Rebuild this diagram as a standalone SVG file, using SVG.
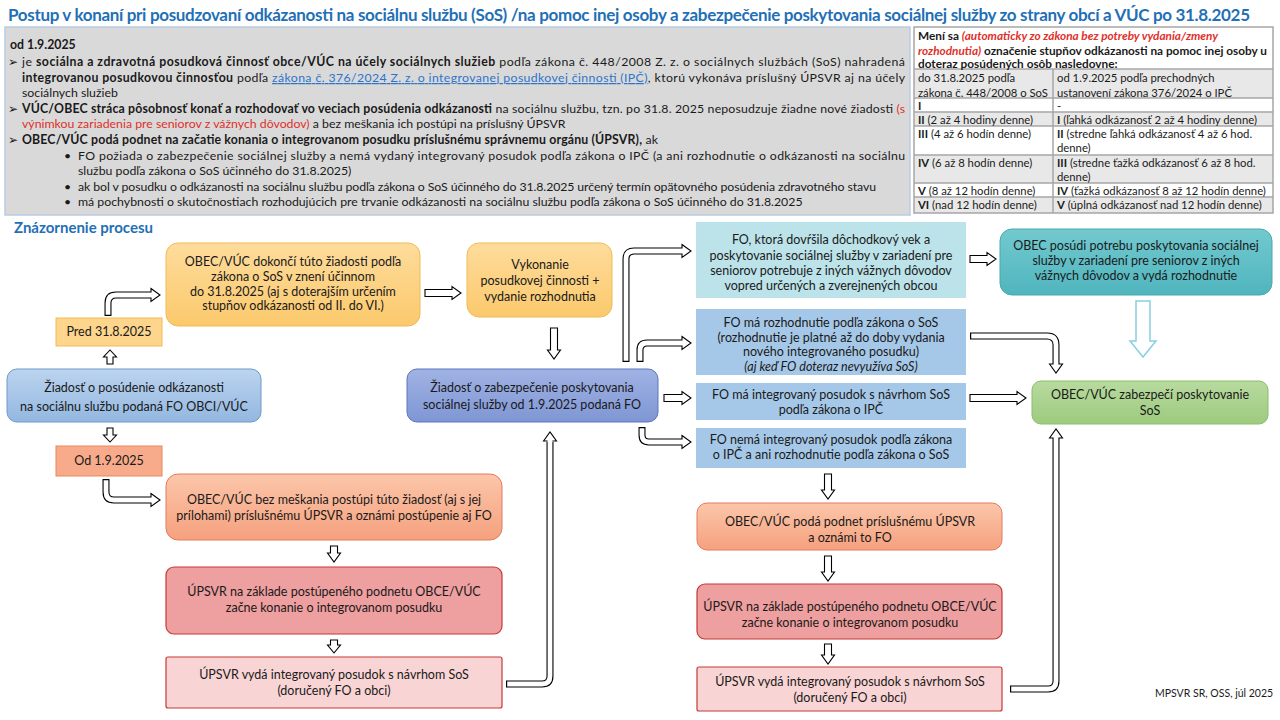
<svg xmlns="http://www.w3.org/2000/svg" width="1280" height="720" viewBox="0 0 1280 720">
<defs>
<style>
text{font-family:Lato,'Liberation Sans',sans-serif;fill:#1a1a1a}
.n{font-size:12.5px;text-anchor:middle}
.g{font-size:12.3px}
.tb{font-size:11.3px}
.b{font-weight:bold}
.i{font-style:italic}
.red{fill:#e0302a}
.lnk{fill:#2e74c8;text-decoration:underline}
.bul{font-family:'DejaVu Sans',sans-serif;font-size:12px}
.arr{fill:#fff;stroke:#000;stroke-width:1.1}
.so{fill:none;stroke:#000;stroke-width:7}
.si{fill:none;stroke:#fff;stroke-width:4.8}
.tl{stroke:#a6a6a6;stroke-width:1.5;fill:none}
</style>
<linearGradient id="gold" x1="0" y1="0" x2="0" y2="1"><stop offset="0" stop-color="#fedc9c"/><stop offset="1" stop-color="#fbc96c"/></linearGradient>
<linearGradient id="blueD" x1="0" y1="0" x2="0" y2="1"><stop offset="0" stop-color="#bcd4ef"/><stop offset="1" stop-color="#93b7e0"/></linearGradient>
<linearGradient id="blueC" x1="0" y1="0" x2="0" y2="1"><stop offset="0" stop-color="#a0b3e4"/><stop offset="1" stop-color="#7f96d4"/></linearGradient>
<linearGradient id="salm" x1="0" y1="0" x2="0" y2="1"><stop offset="0" stop-color="#fcc6aa"/><stop offset="1" stop-color="#f5a17e"/></linearGradient>
<linearGradient id="grn" x1="0" y1="0" x2="0" y2="1"><stop offset="0" stop-color="#b8da9f"/><stop offset="1" stop-color="#9dcb7e"/></linearGradient>
<linearGradient id="teal" x1="0" y1="0" x2="0" y2="1"><stop offset="0" stop-color="#72c9cf"/><stop offset="1" stop-color="#50b5be"/></linearGradient>
</defs>
<rect width="1280" height="720" fill="#fff"/>

<text x="8" y="21" font-size="17" font-weight="bold" style="fill:#1f70b6" textLength="1242" lengthAdjust="spacing">Postup v konaní pri posudzovaní odkázanosti na sociálnu službu (SoS) /na pomoc inej osoby a zabezpečenie poskytovania sociálnej služby zo strany obcí a VÚC po 31.8.2025</text>

<g id="info">
<rect x="5" y="27" width="905" height="188" fill="#d9d9d9" stroke="#b9cbe0" stroke-width="1.5"/>
<text class="g b" x="10" y="49">od 1.9.2025</text>
<text class="bul" x="8" y="66">➢</text>
<text class="g" x="22" y="66" textLength="883" lengthAdjust="spacing">je <tspan class="b">sociálna a zdravotná posudková činnosť obce/VÚC na účely sociálnych služieb</tspan> podľa zákona č. 448/2008 Z. z. o sociálnych službách (SoS) nahradená</text>
<text class="g" x="22" y="82" textLength="883" lengthAdjust="spacing"><tspan class="b">integrovanou posudkovou činnosťou</tspan> podľa <tspan class="lnk">zákona č. 376/2024 Z. z. o integrovanej posudkovej činnosti (IPČ)</tspan>, ktorú vykonáva príslušný ÚPSVR aj na účely</text>
<text class="g" x="22" y="97">sociálnych služieb</text>
<text class="bul" x="8" y="113">➢</text>
<text class="g" x="22" y="113" textLength="883" lengthAdjust="spacing"><tspan class="b">VÚC/OBEC stráca pôsobnosť konať a rozhodovať vo veciach posúdenia odkázanosti</tspan> na sociálnu službu, tzn. po 31.8. 2025 neposudzuje žiadne nové žiadosti <tspan class="red">(s</tspan></text>
<text class="g" x="22" y="128"><tspan class="red">výnimkou zariadenia pre seniorov z vážnych dôvodov)</tspan> a bez meškania ich postúpi na príslušný ÚPSVR</text>
<text class="bul" x="8" y="144">➢</text>
<text class="g" x="22" y="144" textLength="636" lengthAdjust="spacing"><tspan class="b">OBEC/VÚC podá podnet na začatie konania o integrovanom posudku príslušnému správnemu orgánu (ÚPSVR),</tspan> ak</text>
<text class="g" x="64" y="160">•</text>
<text class="g" x="78" y="160" textLength="827" lengthAdjust="spacing">FO požiada o zabezpečenie sociálnej služby a nemá vydaný integrovaný posudok podľa zákona o IPČ (a ani rozhodnutie o odkázanosti na sociálnu</text>
<text class="g" x="78" y="175">službu podľa zákona o SoS účinného do 31.8.2025)</text>
<text class="g" x="64" y="191">•</text>
<text class="g" x="78" y="191" textLength="798" lengthAdjust="spacing">ak bol v posudku o odkázanosti na sociálnu službu podľa zákona o SoS účinného do 31.8.2025 určený termín opätovného posúdenia zdravotného stavu</text>
<text class="g" x="64" y="206">•</text>
<text class="g" x="78" y="206">má pochybnosti o skutočnostiach rozhodujúcich pre trvanie odkázanosti na sociálnu službu podľa zákona o SoS účinného do 31.8.2025</text>
</g>

<g id="table">
<rect x="914" y="27" width="359" height="42" fill="#fff"/>
<rect x="914" y="69" width="359" height="29" fill="#e8e8e8"/>
<rect x="914" y="98" width="359" height="14" fill="#fff"/>
<rect x="914" y="112" width="359" height="14" fill="#e8e8e8"/>
<rect x="914" y="126" width="359" height="29" fill="#fff"/>
<rect x="914" y="155" width="359" height="28" fill="#e8e8e8"/>
<rect x="914" y="183" width="359" height="14" fill="#fff"/>
<rect x="914" y="197" width="359" height="16" fill="#e8e8e8"/>
<rect class="tl" x="914" y="27" width="359" height="186"/>
<path class="tl" d="M914,69H1273M914,98H1273M914,112H1273M914,126H1273M914,155H1273M914,183H1273M914,197H1273M1053,69V213"/>
<text class="b" font-size="11.8" x="918" y="39.5">Mení sa <tspan class="i red">(automaticky zo zákona bez potreby vydania/zmeny</tspan></text>
<text class="b" font-size="11.8" x="918" y="54.5" textLength="349" lengthAdjust="spacingAndGlyphs"><tspan class="i red">rozhodnutia)</tspan> označenie stupňov odkázanosti na pomoc inej osoby u</text>
<text class="b" font-size="11.8" x="918" y="67.5">doteraz posúdených osôb nasledovne:</text>
<text class="tb" x="918" y="82">do 31.8.2025 podľa</text>
<text class="tb" x="918" y="97">zákona č. 448/2008 o SoS</text>
<text class="tb" x="1057" y="82">od 1.9.2025 podľa prechodných</text>
<text class="tb" x="1057" y="97">ustanovení zákona 376/2024 o IPČ</text>
<text class="tb b" x="918" y="110">I</text>
<text class="tb" x="1057" y="110">-</text>
<text class="tb" x="918" y="124"><tspan class="b">II</tspan> (2 až 4 hodiny denne)</text>
<text class="tb" x="1057" y="124"><tspan class="b">I</tspan> (ľahká odkázanosť 2 až 4 hodiny denne)</text>
<text class="tb" x="918" y="138"><tspan class="b">III</tspan> (4 až 6 hodín denne)</text>
<text class="tb" x="1057" y="138"><tspan class="b">II</tspan> (stredne ľahká odkázanosť 4 až 6 hod.</text>
<text class="tb" x="1057" y="152">denne)</text>
<text class="tb" x="918" y="167"><tspan class="b">IV</tspan> (6 až 8 hodín denne)</text>
<text class="tb" x="1057" y="167"><tspan class="b">III</tspan> (stredne ťažká odkázanosť 6 až 8 hod.</text>
<text class="tb" x="1057" y="181">denne)</text>
<text class="tb" x="918" y="195"><tspan class="b">V</tspan> (8 až 12 hodín denne)</text>
<text class="tb" x="1057" y="195"><tspan class="b">IV</tspan> (ťažká odkázanosť 8 až 12 hodín denne)</text>
<text class="tb" x="918" y="209"><tspan class="b">VI</tspan> (nad 12 hodín denne)</text>
<text class="tb" x="1057" y="209"><tspan class="b">V</tspan> (úplná odkázanosť nad 12 hodín denne)</text>
</g>

<text x="14" y="233" font-size="15" font-weight="bold" style="fill:#1f70b6">Znázornenie procesu</text>

<g id="connectors">
<path class="arr" d="M107,364 V357 H103.5 L110,350 L116.5,357 H113 V364 Z"/>
<path class="arr" d="M107,428 V435 H103.5 L110,442 L116.5,435 H113 V428 Z"/>
<path class="arr" d="M425,289.5 H452 V286.5 L461,293 L452,299.5 V296.5 H425 Z"/>
<path class="arr" d="M550.5,328 V350 H547.5 L554,359 L560.5,350 H557.5 V328 Z"/>
<path class="arr" d="M664,394.5 H682 V391.5 L691,398 L682,404.5 V401.5 H664 Z"/>
<path class="arr" d="M970,255.5 H987 V252.5 L996,259 L987,265.5 V262.5 H970 Z"/>
<path class="arr" d="M970,394.5 H1017 V391.5 L1026,398 L1017,404.5 V401.5 H970 Z"/>
<path class="arr" d="M330.5,546 V553 H327.5 L334,562 L340.5,553 H337.5 V546 Z"/>
<path class="arr" d="M330.5,640 V645 H327.5 L334,653 L340.5,645 H337.5 V640 Z"/>
<path class="arr" d="M824.5,474 V490 H821.5 L828,499 L834.5,490 H831.5 V474 Z"/>
<path class="arr" d="M824.5,556 V572 H821.5 L828,581 L834.5,572 H831.5 V556 Z"/>
<path class="arr" d="M824.5,644 V655 H821.5 L828,664 L834.5,655 H831.5 V644 Z"/>
<path d="M1136,301 V341 H1130 L1143,357 L1156,341 H1150 V301 Z" fill="#fff" stroke="#86d0e0" stroke-width="1.5"/>

<path class="so" d="M108,316 V303 Q108,295 116,295 H152"/>
<path class="arr" d="M151,288.5 L160,295 L151,301.5 Z"/>
<path class="si" d="M108,314.8 V303 Q108,295 116,295 H153.5"/>

<path class="so" d="M106,479 V492 Q106,500 114,500 H151"/>
<path class="arr" d="M151,493.5 L160,500 L151,506.5 Z"/>
<path class="si" d="M106,480.2 V492 Q106,500 114,500 H152.5"/>

<path class="so" d="M626,362 V259 Q626,251 634,251 H682"/>
<path class="arr" d="M682,244.5 L691,251 L682,257.5 Z"/>
<path class="si" d="M626,360.8 V259 Q626,251 634,251 H683.5"/>

<path class="so" d="M640,362 V350 Q640,343 647,343 H682"/>
<path class="arr" d="M682,336.5 L691,343 L682,349.5 Z"/>
<path class="si" d="M640,360.8 V350 Q640,343 647,343 H683.5"/>

<path class="so" d="M642,427 V435 Q642,442 649,442 H682"/>
<path class="arr" d="M682,435.5 L691,442 L682,448.5 Z"/>
<path class="si" d="M642,428.2 V435 Q642,442 649,442 H683.5"/>

<path class="so" d="M506,684 H542 Q550,684 550,676 V442"/>
<path class="arr" d="M543.5,441 L550,432 L556.5,441 Z"/>
<path class="si" d="M507.2,684 H542 Q550,684 550,676 V439.5"/>

<path class="so" d="M1010,689 H1048 Q1056,689 1056,681 V438"/>
<path class="arr" d="M1049.5,438 L1056,429 L1062.5,438 Z"/>
<path class="si" d="M1011.2,689 H1048 Q1056,689 1056,681 V436.5"/>

<path class="so" d="M970,336 H1047 Q1056,336 1056,345 V364"/>
<path class="arr" d="M1049.5,364 L1056,373 L1062.5,364 Z"/>
<path class="si" d="M971.2,336 H1047 Q1056,336 1056,345 V365.5"/>
</g>

<g id="nodeA">
<rect x="166" y="243" width="254" height="83" rx="12" fill="url(#gold)" stroke="#f1bb55" stroke-width="1"/>
<text class="n" x="293" y="266">OBEC/VÚC dokončí túto žiadosti podľa</text>
<text class="n" x="293" y="281">zákona o SoS v znení účinnom</text>
<text class="n" x="293" y="296">do 31.8.2025 (aj s doterajším určením</text>
<text class="n" x="293" y="310">stupňov odkázanosti od II. do VI.)</text>
</g>
<g id="nodeB">
<rect x="467" y="243" width="145" height="74" rx="12" fill="url(#gold)" stroke="#f1bb55" stroke-width="1"/>
<text class="n" x="540" y="269">Vykonanie</text>
<text class="n" x="540" y="285">posudkovej činnosti +</text>
<text class="n" x="540" y="301">vydanie rozhodnutia</text>
</g>
<g id="pred">
<rect x="56" y="318" width="106" height="28" fill="#fdd58c" stroke="#f2bb55" stroke-width="1"/>
<text class="n" x="109" y="336">Pred 31.8.2025</text>
</g>
<g id="nodeD">
<rect x="7" y="369" width="254" height="53" rx="10" fill="url(#blueD)" stroke="#6e99c9" stroke-width="1"/>
<text class="n" x="134" y="392" font-size="13.5">Žiadosť o posúdenie odkázanosti</text>
<text class="n" x="134" y="411" font-size="13.5">na sociálnu službu podaná FO OBCI/VÚC</text>
</g>
<g id="od">
<rect x="56" y="446" width="106" height="30" fill="#f7ab8b" stroke="#e9875e" stroke-width="1"/>
<text class="n" x="109" y="465">Od 1.9.2025</text>
</g>
<g id="nodeC">
<rect x="407" y="369" width="251" height="53" rx="10" fill="url(#blueC)" stroke="#5c74bd" stroke-width="1"/>
<text class="n" x="532" y="392" font-size="13">Žiadosť o zabezpečenie poskytovania</text>
<text class="n" x="532" y="409" font-size="13">sociálnej služby od 1.9.2025 podaná FO</text>
</g>
<g id="node5">
<rect x="166" y="474" width="336" height="66" rx="12" fill="url(#salm)" stroke="#e57a5c" stroke-width="1"/>
<text class="n" x="334" y="504">OBEC/VÚC bez meškania postúpi túto žiadosť (aj s jej</text>
<text class="n" x="334" y="520">prílohami) príslušnému ÚPSVR a oznámi postúpenie aj FO</text>
</g>
<g id="node6">
<rect x="166" y="567" width="336" height="67" rx="8" fill="#ee9f9f" stroke="#c33a36" stroke-width="1.2"/>
<text class="n" x="334" y="596">ÚPSVR na základe postúpeného podnetu OBCE/VÚC</text>
<text class="n" x="334" y="612">začne konanie o integrovanom posudku</text>
</g>
<g id="node7">
<rect x="166" y="657" width="336" height="51" rx="2" fill="#f9d4d4" stroke="#c33a36" stroke-width="1.2"/>
<text class="n" x="334" y="679">ÚPSVR vydá integrovaný posudok s návrhom SoS</text>
<text class="n" x="334" y="695">(doručený FO a obci)</text>
</g>
<g id="nodeE">
<rect x="696" y="222" width="270" height="76" fill="#bce3e9"/>
<text class="n" x="831" y="244">FO, ktorá dovŕšila dôchodkový vek a</text>
<text class="n" x="831" y="260">poskytovanie sociálnej služby v zariadení pre</text>
<text class="n" x="831" y="275">seniorov potrebuje z iných vážnych dôvodov</text>
<text class="n" x="831" y="290">vopred určených a zverejnených obcou</text>
</g>
<g id="nodeF">
<rect x="696" y="309" width="270" height="66" fill="#a6c8e8"/>
<text class="n" x="831" y="327">FO má rozhodnutie podľa zákona o SoS</text>
<text class="n" x="831" y="342">(rozhodnutie je platné až do doby vydania</text>
<text class="n" x="831" y="356">nového integrovaného posudku)</text>
<text class="n i" x="831" y="371">(aj keď FO doteraz nevyužíva SoS)</text>
</g>
<g id="nodeG">
<rect x="696" y="383" width="270" height="37" fill="#a6c8e8"/>
<text class="n" x="831" y="399">FO má integrovaný posudok s návrhom SoS</text>
<text class="n" x="831" y="414">podľa zákona o IPČ</text>
</g>
<g id="nodeH">
<rect x="696" y="428" width="270" height="40" fill="#a6c8e8"/>
<text class="n" x="831" y="444">FO nemá integrovaný posudok podľa zákona</text>
<text class="n" x="831" y="459">o IPČ a ani rozhodnutie podľa zákona o SoS</text>
</g>
<g id="nodeI">
<rect x="697" y="503" width="305" height="47" rx="10" fill="url(#salm)" stroke="#e57a5c" stroke-width="1"/>
<text class="n" x="850" y="526">OBEC/VÚC podá podnet príslušnému ÚPSVR</text>
<text class="n" x="850" y="542">a oznámi to FO</text>
</g>
<g id="nodeJ">
<rect x="697" y="584" width="305" height="55" rx="8" fill="#ee9f9f" stroke="#c33a36" stroke-width="1.2"/>
<text class="n" x="850" y="611">ÚPSVR na základe postúpeného podnetu OBCE/VÚC</text>
<text class="n" x="850" y="627">začne konanie o integrovanom posudku</text>
</g>
<g id="nodeK">
<rect x="697" y="667" width="305" height="44" rx="2" fill="#f9d4d4" stroke="#c33a36" stroke-width="1.2"/>
<text class="n" x="850" y="686">ÚPSVR vydá integrovaný posudok s návrhom SoS</text>
<text class="n" x="850" y="702">(doručený FO a obci)</text>
</g>
<g id="nodeM">
<rect x="1000" y="229" width="272" height="66" rx="12" fill="url(#teal)" stroke="#4aa8b0" stroke-width="1"/>
<text class="n" x="1136" y="250">OBEC posúdi potrebu poskytovania sociálnej</text>
<text class="n" x="1136" y="265">služby v zariadení pre seniorov z iných</text>
<text class="n" x="1136" y="280">vážnych dôvodov a vydá rozhodnutie</text>
</g>
<g id="nodeL">
<rect x="1032" y="381" width="236" height="43" rx="9" fill="url(#grn)" stroke="#8bbd6b" stroke-width="1"/>
<text class="n" x="1150" y="399" font-size="13">OBEC/VÚC zabezpečí poskytovanie</text>
<text class="n" x="1150" y="415" font-size="13">SoS</text>
</g>

<text x="1155" y="697" font-size="10.5">MPSVR SR, OSS, júl 2025</text>
</svg>
